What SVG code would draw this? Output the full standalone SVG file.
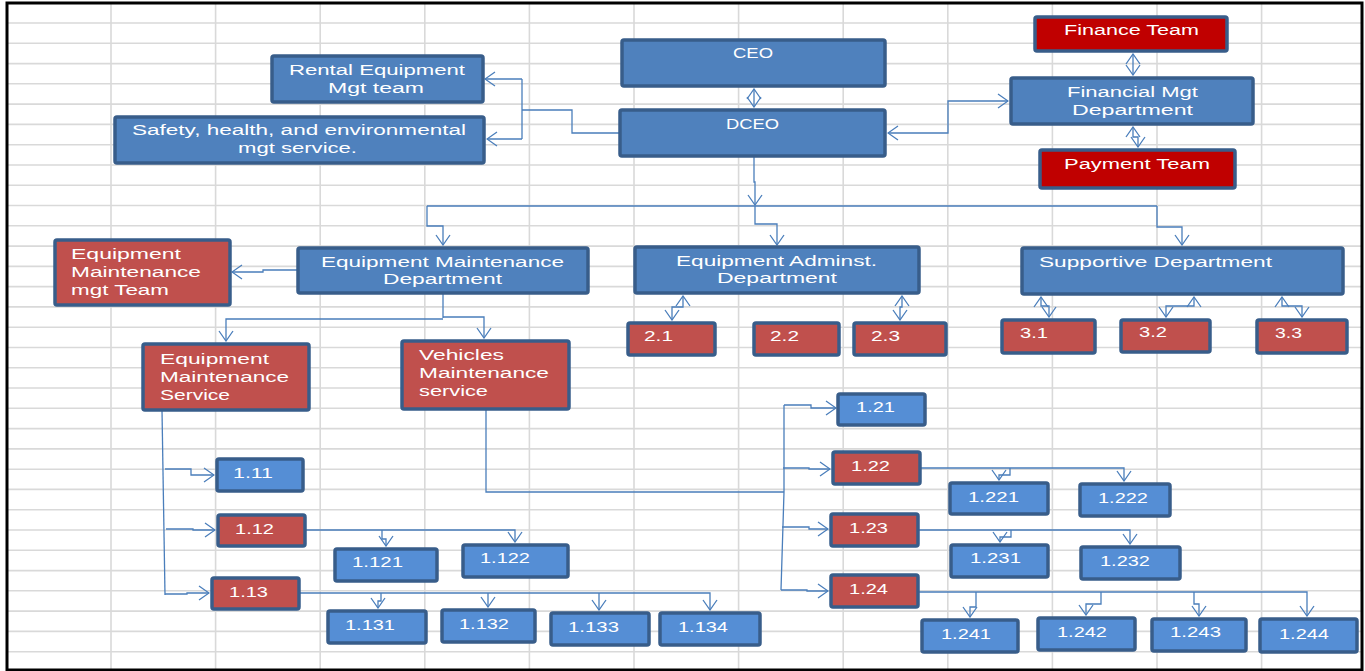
<svg xmlns="http://www.w3.org/2000/svg" width="1365" height="671" viewBox="0 0 1365 671">
<defs>
<style>
.grid line{stroke:#D9D9D9;stroke-width:1.6}
.b{fill:#4F81BD;stroke:#385D8A;stroke-width:3.5}
.l{fill:#558ED5;stroke:#385D8A;stroke-width:3.5}
.r{fill:#C0504D;stroke:#385D8A;stroke-width:3.5}
.d{fill:#C00000;stroke:#385D8A;stroke-width:3.5}
text{fill:#FFFFFF;font-family:"Liberation Sans",Arial,sans-serif;font-size:14px}
.c path{fill:none;stroke:#4A7EBB;stroke-width:1.3}
</style>
<marker id="a" viewBox="-1 -8 12 16" markerWidth="12" markerHeight="16" refX="10" refY="0" orient="auto-start-reverse" markerUnits="userSpaceOnUse">
<path d="M0,-7 L10,0 L0,7" fill="none" stroke="#4A7EBB" stroke-width="1.3"/>
</marker>
</defs>
<rect x="0" y="0" width="1365" height="671" fill="#FFFFFF"/>
<g class="grid">
<line x1="111" y1="3" x2="111" y2="670"/><line x1="215.6" y1="3" x2="215.6" y2="670"/><line x1="320.2" y1="3" x2="320.2" y2="670"/><line x1="424.8" y1="3" x2="424.8" y2="670"/><line x1="529.4" y1="3" x2="529.4" y2="670"/><line x1="634" y1="3" x2="634" y2="670"/><line x1="738.6" y1="3" x2="738.6" y2="670"/><line x1="843.2" y1="3" x2="843.2" y2="670"/><line x1="947.8" y1="3" x2="947.8" y2="670"/><line x1="1052.4" y1="3" x2="1052.4" y2="670"/><line x1="1157" y1="3" x2="1157" y2="670"/><line x1="1261.6" y1="3" x2="1261.6" y2="670"/>
<line x1="7" y1="23" x2="1362" y2="23"/><line x1="7" y1="43.3" x2="1362" y2="43.3"/><line x1="7" y1="63.6" x2="1362" y2="63.6"/><line x1="7" y1="83.8" x2="1362" y2="83.8"/><line x1="7" y1="104.1" x2="1362" y2="104.1"/><line x1="7" y1="124.4" x2="1362" y2="124.4"/><line x1="7" y1="144.7" x2="1362" y2="144.7"/><line x1="7" y1="165" x2="1362" y2="165"/><line x1="7" y1="185.2" x2="1362" y2="185.2"/><line x1="7" y1="205.5" x2="1362" y2="205.5"/><line x1="7" y1="225.8" x2="1362" y2="225.8"/><line x1="7" y1="246.1" x2="1362" y2="246.1"/><line x1="7" y1="266.4" x2="1362" y2="266.4"/><line x1="7" y1="286.6" x2="1362" y2="286.6"/><line x1="7" y1="306.9" x2="1362" y2="306.9"/><line x1="7" y1="327.2" x2="1362" y2="327.2"/><line x1="7" y1="347.5" x2="1362" y2="347.5"/><line x1="7" y1="367.8" x2="1362" y2="367.8"/><line x1="7" y1="388" x2="1362" y2="388"/><line x1="7" y1="408.3" x2="1362" y2="408.3"/><line x1="7" y1="428.6" x2="1362" y2="428.6"/><line x1="7" y1="448.9" x2="1362" y2="448.9"/><line x1="7" y1="469.2" x2="1362" y2="469.2"/><line x1="7" y1="489.4" x2="1362" y2="489.4"/><line x1="7" y1="509.7" x2="1362" y2="509.7"/><line x1="7" y1="530" x2="1362" y2="530"/><line x1="7" y1="550.3" x2="1362" y2="550.3"/><line x1="7" y1="570.6" x2="1362" y2="570.6"/><line x1="7" y1="590.8" x2="1362" y2="590.8"/><line x1="7" y1="611.1" x2="1362" y2="611.1"/><line x1="7" y1="631.4" x2="1362" y2="631.4"/><line x1="7" y1="651.7" x2="1362" y2="651.7"/>
</g>
<rect x="7" y="3" width="1355" height="667" fill="none" stroke="#000000" stroke-width="3"/>
<g class="c">
<path d="M754,89 V107" marker-start="url(#a)" marker-end="url(#a)"/>
<path d="M619,133 H572 V110 H522"/>
<path d="M522,79 V139"/>
<path d="M522,79 H485" marker-end="url(#a)"/>
<path d="M522,139 H487" marker-end="url(#a)"/>
<path d="M888,133 H948 V101 H1008" marker-start="url(#a)" marker-end="url(#a)"/>
<path d="M1133,54 V75" marker-start="url(#a)" marker-end="url(#a)"/>
<path d="M1133,127 V137 H1138 V147" marker-start="url(#a)" marker-end="url(#a)"/>
<path d="M754,157 V182 H755 V205" marker-end="url(#a)"/>
<path d="M427,206 H1157"/>
<path d="M755,206 V224 H777 V245" marker-end="url(#a)"/>
<path d="M427,206 V226 H443 V245" marker-end="url(#a)"/>
<path d="M1157,206 V227 H1182 V245" marker-end="url(#a)"/>
<path d="M297,270 H263 V272 H232" marker-end="url(#a)"/>
<path d="M443,293 V318"/>
<path d="M443,319 H226 V341" marker-end="url(#a)"/>
<path d="M443,317 H484 V338" marker-end="url(#a)"/>
<path d="M683,296 V307 H672 V320" marker-start="url(#a)" marker-end="url(#a)"/>
<path d="M902,296 V307 H900 V320" marker-start="url(#a)" marker-end="url(#a)"/>
<path d="M1041,297 V306 H1049 V317" marker-start="url(#a)" marker-end="url(#a)"/>
<path d="M1194,297 V306 H1166 V317" marker-start="url(#a)" marker-end="url(#a)"/>
<path d="M1282,297 V306 H1302 V317" marker-start="url(#a)" marker-end="url(#a)"/>
<path d="M162,410 L165,595"/>
<path d="M165,469 H191 V475 H214" marker-end="url(#a)"/>
<path d="M166,529 H193 V530 H215" marker-end="url(#a)"/>
<path d="M165,594 H187 V593 H209" marker-end="url(#a)"/>
<path d="M305,530 H515 V542" marker-end="url(#a)"/>
<path d="M382,530 V539 H386 V546" marker-end="url(#a)"/>
<path d="M299,593 H710 V610" marker-end="url(#a)"/>
<path d="M381,593 V601 H378 V608" marker-end="url(#a)"/>
<path d="M488,593 V607" marker-end="url(#a)"/>
<path d="M599,593 V610" marker-end="url(#a)"/>
<path d="M486,409 V492 H784"/>
<path d="M784,405 V492 L781,590"/>
<path d="M784,405 H811 V408 H836" marker-end="url(#a)"/>
<path d="M783,468 H809 V469 H830" marker-end="url(#a)"/>
<path d="M782,527 H809 V529 H828" marker-end="url(#a)"/>
<path d="M781,590 H807 V591 H828" marker-end="url(#a)"/>
<path d="M920,468 H1124 V481" marker-end="url(#a)"/>
<path d="M1010,468 V475 H999 V480" marker-end="url(#a)"/>
<path d="M918,530 H1130 V544" marker-end="url(#a)"/>
<path d="M1011,530 V537 H1000 V542" marker-end="url(#a)"/>
<path d="M918,592 H1307 V616" marker-end="url(#a)"/>
<path d="M976,592 V607 H970 V617" marker-end="url(#a)"/>
<path d="M1101,592 V604 H1086 V615" marker-end="url(#a)"/>
<path d="M1194,592 V604 H1199 V616" marker-end="url(#a)"/>
</g>
<g id="rental"><rect class="b" x="272" y="56" width="211" height="46" rx="2"/><text x="289" y="75" textLength="176" lengthAdjust="spacingAndGlyphs">Rental Equipment</text><text x="328" y="93" textLength="96" lengthAdjust="spacingAndGlyphs">Mgt team</text></g>
<g id="safety"><rect class="b" x="115" y="117" width="369" height="46" rx="2"/><text x="132" y="135" textLength="334" lengthAdjust="spacingAndGlyphs">Safety, health, and environmental</text><text x="238" y="153" textLength="119" lengthAdjust="spacingAndGlyphs">mgt service.</text></g>
<g id="ceo"><rect class="b" x="622" y="40" width="263" height="46" rx="2"/><text x="733" y="58" textLength="40" lengthAdjust="spacingAndGlyphs">CEO</text></g>
<g id="dceo"><rect class="b" x="620" y="110" width="265" height="46" rx="2"/><text x="726" y="129" textLength="53" lengthAdjust="spacingAndGlyphs">DCEO</text></g>
<g id="finance"><rect class="d" x="1035" y="17" width="192" height="34" rx="2"/><text x="1064" y="35" textLength="135" lengthAdjust="spacingAndGlyphs">Finance Team</text></g>
<g id="finmgt"><rect class="b" x="1011" y="78" width="242" height="46" rx="2"/><text x="1067" y="97" textLength="131" lengthAdjust="spacingAndGlyphs">Financial Mgt</text><text x="1072" y="115" textLength="121" lengthAdjust="spacingAndGlyphs">Department</text></g>
<g id="payment"><rect class="d" x="1040" y="150" width="195" height="38" rx="2"/><text x="1064" y="169" textLength="146" lengthAdjust="spacingAndGlyphs">Payment Team</text></g>
<g id="emmgt"><rect class="r" x="55" y="240" width="175" height="65" rx="2"/><text x="71" y="259" textLength="110" lengthAdjust="spacingAndGlyphs">Equipment</text><text x="71" y="277" textLength="130" lengthAdjust="spacingAndGlyphs">Maintenance</text><text x="71" y="295" textLength="98" lengthAdjust="spacingAndGlyphs">mgt Team</text></g>
<g id="emd"><rect class="b" x="298" y="248" width="290" height="45" rx="2"/><text x="321" y="267" textLength="243" lengthAdjust="spacingAndGlyphs">Equipment Maintenance</text><text x="383" y="284" textLength="119" lengthAdjust="spacingAndGlyphs">Department</text></g>
<g id="ead"><rect class="b" x="635" y="247" width="284" height="46" rx="2"/><text x="676" y="266" textLength="201" lengthAdjust="spacingAndGlyphs">Equipment Adminst.</text><text x="717" y="283" textLength="120" lengthAdjust="spacingAndGlyphs">Department</text></g>
<g id="sup"><rect class="b" x="1022" y="248" width="321" height="46" rx="2"/><text x="1039" y="267" textLength="233" lengthAdjust="spacingAndGlyphs">Supportive Department</text></g>
<g id="n21"><rect class="r" x="628" y="323" width="87" height="32" rx="2"/><text x="644" y="341" textLength="29" lengthAdjust="spacingAndGlyphs">2.1</text></g>
<g id="n22"><rect class="r" x="754" y="323" width="85" height="32" rx="2"/><text x="770" y="341" textLength="29" lengthAdjust="spacingAndGlyphs">2.2</text></g>
<g id="n23"><rect class="r" x="854" y="323" width="92" height="32" rx="2"/><text x="871" y="341" textLength="29" lengthAdjust="spacingAndGlyphs">2.3</text></g>
<g id="n31"><rect class="r" x="1002" y="320" width="93" height="33" rx="2"/><text x="1020" y="338" textLength="28" lengthAdjust="spacingAndGlyphs">3.1</text></g>
<g id="n32"><rect class="r" x="1121" y="320" width="89" height="32" rx="2"/><text x="1139" y="337" textLength="28" lengthAdjust="spacingAndGlyphs">3.2</text></g>
<g id="n33"><rect class="r" x="1257" y="320" width="90" height="33" rx="2"/><text x="1275" y="338" textLength="27" lengthAdjust="spacingAndGlyphs">3.3</text></g>
<g id="ems"><rect class="r" x="143" y="344" width="166" height="66" rx="2"/><text x="160" y="364" textLength="109" lengthAdjust="spacingAndGlyphs">Equipment</text><text x="160" y="382" textLength="129" lengthAdjust="spacingAndGlyphs">Maintenance</text><text x="160" y="400" textLength="70" lengthAdjust="spacingAndGlyphs">Service</text></g>
<g id="vms"><rect class="r" x="402" y="341" width="167" height="68" rx="2"/><text x="419" y="360" textLength="85" lengthAdjust="spacingAndGlyphs">Vehicles</text><text x="419" y="378" textLength="130" lengthAdjust="spacingAndGlyphs">Maintenance</text><text x="419" y="396" textLength="69" lengthAdjust="spacingAndGlyphs">service</text></g>
<g id="n111"><rect class="l" x="217" y="459" width="86" height="32" rx="2"/><text x="233" y="478" textLength="40" lengthAdjust="spacingAndGlyphs">1.11</text></g>
<g id="n112"><rect class="r" x="218" y="515" width="87" height="31" rx="2"/><text x="235" y="534" textLength="39" lengthAdjust="spacingAndGlyphs">1.12</text></g>
<g id="n113"><rect class="r" x="212" y="578" width="87" height="31" rx="2"/><text x="229" y="597" textLength="39" lengthAdjust="spacingAndGlyphs">1.13</text></g>
<g id="n1121"><rect class="l" x="335" y="549" width="102" height="32" rx="2"/><text x="352" y="567" textLength="51" lengthAdjust="spacingAndGlyphs">1.121</text></g>
<g id="n1122"><rect class="l" x="463" y="545" width="105" height="32" rx="2"/><text x="480" y="563" textLength="50" lengthAdjust="spacingAndGlyphs">1.122</text></g>
<g id="n1131"><rect class="l" x="328" y="611" width="98" height="32" rx="2"/><text x="345" y="630" textLength="50" lengthAdjust="spacingAndGlyphs">1.131</text></g>
<g id="n1132"><rect class="l" x="442" y="610" width="93" height="32" rx="2"/><text x="459" y="629" textLength="50" lengthAdjust="spacingAndGlyphs">1.132</text></g>
<g id="n1133"><rect class="l" x="551" y="613" width="98" height="32" rx="2"/><text x="568" y="632" textLength="51" lengthAdjust="spacingAndGlyphs">1.133</text></g>
<g id="n1134"><rect class="l" x="660" y="613" width="100" height="32" rx="2"/><text x="678" y="632" textLength="50" lengthAdjust="spacingAndGlyphs">1.134</text></g>
<g id="n121"><rect class="l" x="838" y="394" width="87" height="31" rx="2"/><text x="856" y="412" textLength="39" lengthAdjust="spacingAndGlyphs">1.21</text></g>
<g id="n122"><rect class="r" x="833" y="452" width="87" height="32" rx="2"/><text x="851" y="471" textLength="39" lengthAdjust="spacingAndGlyphs">1.22</text></g>
<g id="n123"><rect class="r" x="831" y="514" width="87" height="32" rx="2"/><text x="849" y="533" textLength="39" lengthAdjust="spacingAndGlyphs">1.23</text></g>
<g id="n124"><rect class="r" x="831" y="575" width="87" height="32" rx="2"/><text x="849" y="594" textLength="39" lengthAdjust="spacingAndGlyphs">1.24</text></g>
<g id="n1221"><rect class="l" x="950" y="483" width="98" height="31" rx="2"/><text x="968" y="502" textLength="51" lengthAdjust="spacingAndGlyphs">1.221</text></g>
<g id="n1222"><rect class="l" x="1080" y="484" width="90" height="32" rx="2"/><text x="1098" y="503" textLength="50" lengthAdjust="spacingAndGlyphs">1.222</text></g>
<g id="n1231"><rect class="l" x="951" y="545" width="97" height="32" rx="2"/><text x="970" y="563" textLength="51" lengthAdjust="spacingAndGlyphs">1.231</text></g>
<g id="n1232"><rect class="l" x="1081" y="547" width="99" height="32" rx="2"/><text x="1100" y="566" textLength="50" lengthAdjust="spacingAndGlyphs">1.232</text></g>
<g id="n1241"><rect class="l" x="922" y="620" width="96" height="32" rx="2"/><text x="941" y="639" textLength="50" lengthAdjust="spacingAndGlyphs">1.241</text></g>
<g id="n1242"><rect class="l" x="1038" y="618" width="97" height="32" rx="2"/><text x="1057" y="637" textLength="50" lengthAdjust="spacingAndGlyphs">1.242</text></g>
<g id="n1243"><rect class="l" x="1152" y="619" width="94" height="32" rx="2"/><text x="1170" y="637" textLength="51" lengthAdjust="spacingAndGlyphs">1.243</text></g>
<g id="n1244"><rect class="l" x="1260" y="619" width="97" height="33" rx="2"/><text x="1279" y="639" textLength="50" lengthAdjust="spacingAndGlyphs">1.244</text></g>
</svg>
